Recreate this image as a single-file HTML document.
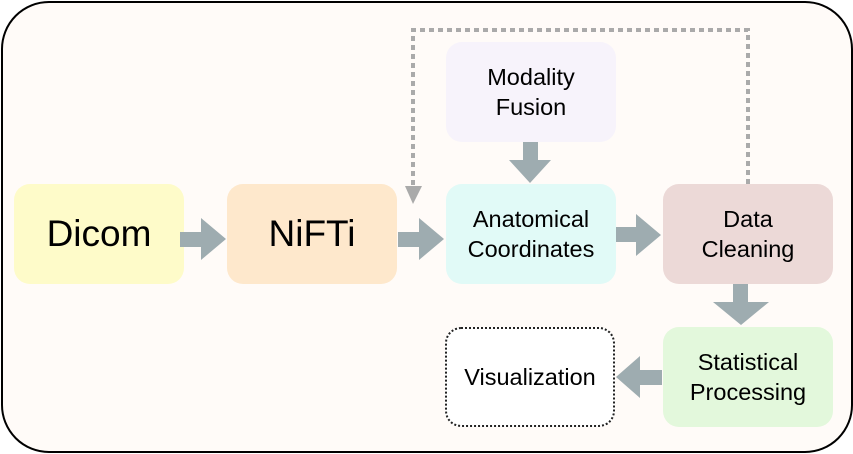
<!DOCTYPE html>
<html><head><style>
body{margin:0;width:853px;height:454px;overflow:hidden;background:#fff;font-family:"Liberation Sans",sans-serif}
.frame{position:absolute;left:1px;top:1px;width:848px;height:448px;border:2px solid #000;border-radius:48px;background:#fffbf8}
.b{position:absolute;width:170px;height:100px;border-radius:16px;display:flex;align-items:center;justify-content:center;text-align:center;font-size:23.5px;line-height:30px;color:#000}
.big{font-size:37px}
svg{position:absolute;left:0;top:0}
</style></head><body>
<div class="frame"></div>
<div class="b big" style="left:14px;top:184px;background:#fefbc9">Dicom</div>
<div class="b big" style="left:227px;top:184px;background:#fee8cc">NiFTi</div>
<div class="b" style="left:446px;top:42px;background:#f7f3fb">Modality<br>Fusion</div>
<div class="b" style="left:446px;top:184px;background:#e1faf7">Anatomical<br>Coordinates</div>
<div class="b" style="left:663px;top:184px;background:#ecd9d7">Data<br>Cleaning</div>
<div class="b" style="left:663px;top:327px;background:#e3f8dc">Statistical<br>Processing</div>
<div class="b" style="left:445px;top:327px;width:166px;height:96px;background:#fff;border:2px dotted #222">Visualization</div>
<svg width="853" height="454">
<g fill="#9eacb0">
<polygon points="180,232 201,232 201,218 226,239 201,260 201,247 180,247"/>
<polygon points="398,232 419,232 419,218 444,239 419,260 419,247 398,247"/>
<polygon points="616,227 636,227 636,214 661,235 636,256 636,242 616,242"/>
<polygon points="523,142 538,142 538,160 551,160 530,183 509,160 523,160"/>
<polygon points="733,284 748,284 748,302 769,302 741,325 713,302 733,302"/>
<polygon points="662,370 640,370 640,356 616,377 640,398 640,385 662,385"/>
</g>
<path d="M748,184 V30 H413 V186" fill="none" stroke="#aaa" stroke-width="4" stroke-dasharray="5,4"/>
<polygon points="405,186 422,186 413,204" fill="#aaa"/>
</svg>
</body></html>
